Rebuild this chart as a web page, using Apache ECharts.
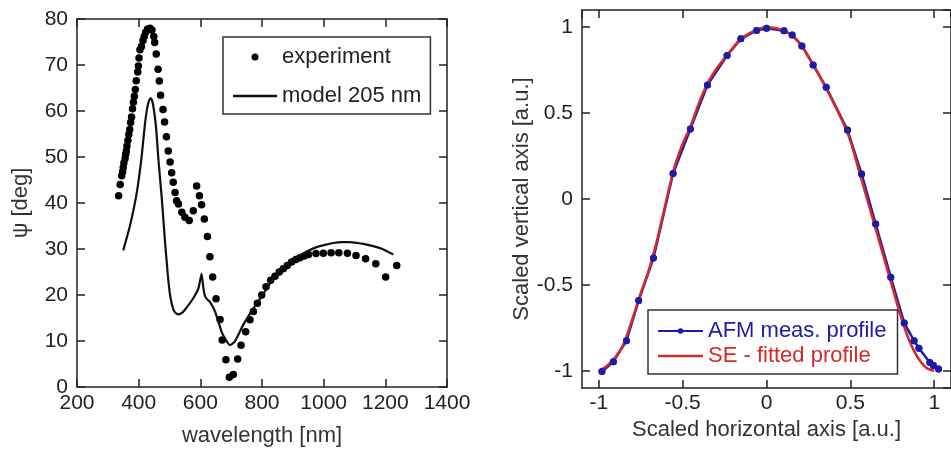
<!DOCTYPE html>
<html>
<head>
<meta charset="utf-8">
<script src="https://cdn.jsdelivr.net/npm/echarts@6/dist/echarts.min.js"></script>
<style>
html,body{margin:0;padding:0;background:#fff;}
#chart{width:951px;height:452px;}
</style>
</head>
<body>
<div id="chart"></div>
<script>
// ---- Left panel: ellipsometric psi vs wavelength ----
const expWavelength = [335,340,345,348,350,352,356,358,360,362,365,368,371,374,377,380,383,386,389,392,397,399,401,404,409,414,418,423,429,437,443,449,452,457,463,467,471,479,484,490,496,502,507,512,518,523,529,540,550,564,577,588,597,604,613,623,631,640,651,664,671,683,694,707,721,732,747,761,772,785,799,813,828,842,856,869,882,896,910,923,937,951,975,999,1024,1049,1077,1105,1136,1169,1201,1237];
const expPsi = [41.6,44.0,45.9,46.8,47.7,48.7,49.7,50.6,51.3,52.4,53.6,54.9,56.0,57.5,58.7,60.5,61.9,63.2,64.7,66.6,68.5,69.8,71.5,73.3,74.0,75.3,76.2,77.1,77.8,78.0,77.6,76.2,74.9,72.4,69.1,66.5,63.4,60.3,57.6,54.4,51.3,48.9,46.6,44.5,42.3,40.5,39.8,38.0,36.9,36.2,38.3,43.7,41.6,39.6,36.5,32.7,28.3,23.9,19.2,14.7,10.2,5.9,2.1,2.7,6.1,9.1,12.0,14.6,16.4,18.2,20.0,21.8,23.2,24.1,25.0,25.7,26.4,27.2,27.7,28.1,28.5,28.8,29.0,29.1,29.2,29.2,29.1,28.6,27.9,26.8,23.9,26.4];
const modelWavelength = [350,372,394,410,420,428,434,439,444,450,457,464,475,485,495,503,512,520,530,540,550,577,594,604,609,614,620,631,648,669,685,696,712,739,772,794,815,840,869,895,923,950,977,1004,1031,1058,1085,1110,1129,1150,1172,1190,1205,1226];
const modelPsi = [29.7,35.1,42.3,50.3,57,60.8,62.3,62.8,62.2,60,56,49.5,41,32,24,19.5,17,16.1,15.8,16.1,16.8,19.3,21.5,24.6,22,20,19.2,18.5,16.4,12,10,9.1,9.9,13.5,17.1,19.2,21.4,23.8,26.1,27.6,28.6,29.6,30.4,30.9,31.3,31.5,31.5,31.3,31.1,30.8,30.4,30.0,29.5,28.8];

// ---- Right panel: scaled profile ----
const afmX = [-0.981,-0.913,-0.835,-0.762,-0.674,-0.557,-0.454,-0.352,-0.235,-0.153,-0.059,0,0.104,0.153,0.211,0.278,0.356,0.483,0.567,0.651,0.741,0.821,0.880,0.909,0.974,0.995,1.026];
const afmY = [-1.004,-0.947,-0.825,-0.591,-0.344,0.148,0.407,0.663,0.835,0.932,0.981,0.994,0.979,0.955,0.891,0.780,0.650,0.401,0.146,-0.146,-0.455,-0.721,-0.825,-0.869,-0.951,-0.969,-0.990];
const seX = [-1,-0.95,-0.9,-0.85,-0.8,-0.75,-0.7,-0.65,-0.6,-0.55,-0.5,-0.45,-0.4,-0.35,-0.3,-0.25,-0.2,-0.15,-0.1,-0.05,0,0.05,0.1,0.15,0.2,0.25,0.3,0.35,0.4,0.45,0.5,0.55,0.6,0.65,0.7,0.75,0.8,0.85,0.9,0.95,1];
const seY = [-1.0,-0.97,-0.92,-0.84,-0.70,-0.55,-0.41,-0.23,-0.02,0.18,0.32,0.43,0.565,0.675,0.755,0.82,0.88,0.935,0.965,0.99,1.0,0.995,0.98,0.955,0.905,0.83,0.745,0.655,0.56,0.46,0.34,0.17,0.0,-0.17,-0.34,-0.51,-0.68,-0.82,-0.92,-0.98,-1.0];

const zip = (a, b) => a.map((v, i) => [v, b[i]]);

const FONT = 'Liberation Sans, Arial, sans-serif';
const TXT = '#222';
const AX = '#222';
const blue = '#1c1ca8';
const red = '#d42a2a';
const LINE_ICON = 'path://M0,0H44V2.4H0Z';

function baseAxis(extra) {
  return Object.assign({
    type: 'value',
    axisLine: { show: true, onZero: false, lineStyle: { color: AX, width: 1.5 } },
    axisTick: { show: true, inside: true, length: 8, lineStyle: { color: AX, width: 1.5 } },
    splitLine: { show: false },
    axisLabel: { color: TXT, fontSize: 21, fontFamily: FONT },
    nameTextStyle: { color: '#333', fontSize: 22, fontFamily: FONT }
  }, extra);
}
function halfStep(v) { return Math.abs(v * 2 - Math.round(v * 2)) < 1e-6; }

const chart = echarts.init(document.getElementById('chart'), null, { renderer: 'canvas' });
chart.setOption({
  animation: false,
  backgroundColor: '#fff',
  grid: [
    { left: 77, top: 19, width: 370, height: 370 },
    { left: 582, top: 10, width: 376, height: 378 }
  ],
  xAxis: [
    baseAxis({ gridIndex: 0, position: 'bottom', min: 200, max: 1400, interval: 200,
      name: 'wavelength [nm]', nameLocation: 'middle', nameGap: 38,
      axisLabel: { color: TXT, fontSize: 21, fontFamily: FONT, margin: 6, formatter: v => String(v) } }),
    baseAxis({ gridIndex: 0, position: 'top', min: 200, max: 1400, interval: 200,
      axisLabel: { show: false } }),
    baseAxis({ gridIndex: 1, position: 'bottom', min: -1.1, max: 1.1,
      name: 'Scaled horizontal axis [a.u.]', nameLocation: 'middle', nameGap: 26,
      axisLabel: { color: TXT, fontSize: 21, fontFamily: FONT, margin: 5, showMinLabel: false, showMaxLabel: false,
        formatter: v => halfStep(v) ? String(Math.round(v * 10) / 10) : '' } }),
    baseAxis({ gridIndex: 1, position: 'top', min: -1.1, max: 1.1, axisLabel: { show: false } })
  ],
  yAxis: [
    baseAxis({ gridIndex: 0, position: 'left', min: 0, max: 80, interval: 10,
      name: 'ψ [deg]', nameLocation: 'middle', nameGap: 45,
      axisLabel: { color: TXT, fontSize: 21, fontFamily: FONT, margin: 9, formatter: v => String(v) } }),
    baseAxis({ gridIndex: 0, position: 'right', min: 0, max: 80, interval: 10, axisLabel: { show: false } }),
    baseAxis({ gridIndex: 1, position: 'left', min: -1.1, max: 1.1,
      name: 'Scaled vertical axis [a.u.]', nameLocation: 'middle', nameGap: 47,
      axisLabel: { color: TXT, fontSize: 21, fontFamily: FONT, margin: 9, showMinLabel: false, showMaxLabel: false,
        formatter: v => halfStep(v) ? String(Math.round(v * 10) / 10) : '' } }),
    baseAxis({ gridIndex: 1, position: 'right', min: -1.1, max: 1.1, axisLabel: { show: false } })
  ],
  legend: [
    {
      data: [
        { name: 'experiment', icon: 'circle' },
        { name: 'model 205 nm', icon: LINE_ICON }
      ],
      orient: 'vertical', left: 223, top: 37,
      padding: [9, 9, 7, 10], itemGap: 17, itemWidth: 44, itemHeight: 7,
      borderColor: '#333', borderWidth: 1.5, backgroundColor: '#fff',
      textStyle: { color: TXT, fontSize: 22, fontFamily: FONT }
    },
    {
      data: [
        { name: 'AFM meas. profile', textStyle: { color: blue } },
        { name: 'SE - fitted profile', icon: LINE_ICON, textStyle: { color: red } }
      ],
      orient: 'vertical', left: 648, top: 310,
      padding: [10, 11, 7, 9], itemGap: 3, itemWidth: 45, itemHeight: 7,
      borderColor: '#333', borderWidth: 1.5, backgroundColor: '#fff',
      textStyle: { fontSize: 22, fontFamily: FONT }
    }
  ],
  series: [
    {
      name: 'model 205 nm', type: 'line', xAxisIndex: 0, yAxisIndex: 0,
      data: zip(modelWavelength, modelPsi), symbol: 'none', smooth: 0.15,
      lineStyle: { color: '#111', width: 2.2 }, itemStyle: { color: '#111' }
    },
    {
      name: 'experiment', type: 'scatter', xAxisIndex: 0, yAxisIndex: 0,
      data: zip(expWavelength, expPsi), symbol: 'circle', symbolSize: 7.5,
      itemStyle: { color: '#000', opacity: 1 }
    },
    {
      name: 'AFM meas. profile', type: 'line', xAxisIndex: 2, yAxisIndex: 2,
      data: zip(afmX, afmY), symbol: 'circle', symbolSize: 7, showSymbol: true,
      lineStyle: { color: blue, width: 2.5 }, itemStyle: { color: blue }, z: 2
    },
    {
      name: 'SE - fitted profile', type: 'line', xAxisIndex: 2, yAxisIndex: 2,
      data: zip(seX, seY), symbol: 'none', smooth: 0.3,
      lineStyle: { color: red, width: 2.6 }, itemStyle: { color: red }, z: 3
    },
    {
      name: 'afmDots', type: 'scatter', xAxisIndex: 2, yAxisIndex: 2,
      data: zip(afmX, afmY), symbol: 'circle', symbolSize: 7,
      itemStyle: { color: blue, opacity: 1 }, z: 4, silent: true
    }
  ]
});
</script>
</body>
</html>
